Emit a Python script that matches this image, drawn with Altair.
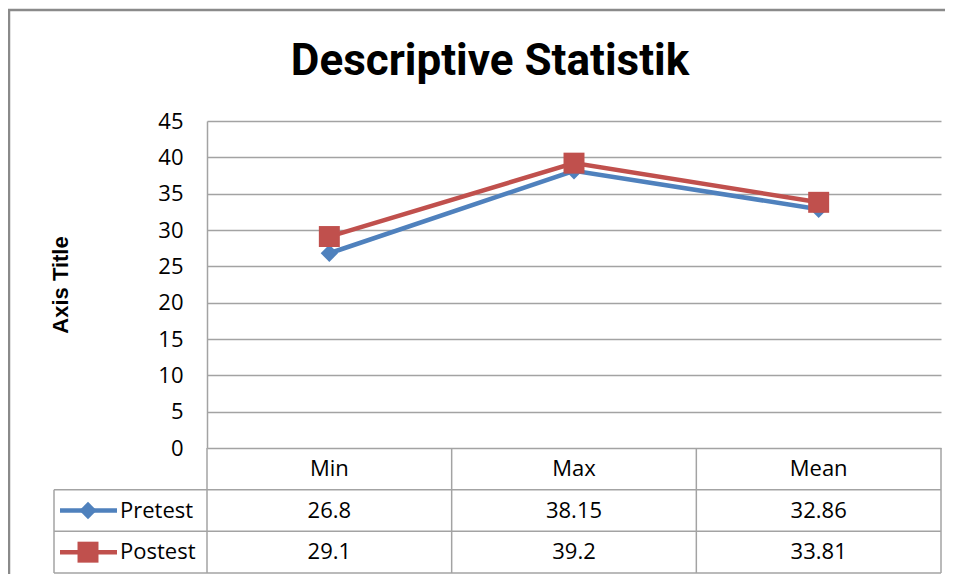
import altair as alt
import pandas as pd

# ---- data ----
categories = ["Min", "Max", "Mean"]
series_names = ["Pretest", "Postest"]
pretest = [26.8, 38.15, 32.86]
postest = [29.1, 39.2, 33.81]
y_ticks = [0, 5, 10, 15, 20, 25, 30, 35, 40, 45]
series_colors = ["#4F81BD", "#C0504D"]
series_shapes = ["diamond", "square"]
series_sizes = [300, 440]
title_text = "Descriptive Statistik"
y_title = "Axis Title"
header_row = "header"

rows = []
for s, vals in zip(series_names, [pretest, postest]):
    for c, v in zip(categories, vals):
        rows.append({"cat": c, "series": s, "value": v, "label": f"{v:g}", "row": s})
df = pd.DataFrame(rows)
df_head = pd.DataFrame({"cat": categories, "row": [header_row] * len(categories)})
df_series = pd.DataFrame({"series": series_names, "row": series_names})
df_one = pd.DataFrame({"k": [0]})

# ---- layout (pixels) ----
W = 734          # plot width
PH = 327         # plot height
RH = 125 / 3     # table row height
H = PH + 3 * RH
LEG_W = 153      # legend column width
GRID = "#a3a3a3"
FONT = "Open Sans"
FS = 22

x_scale = alt.Scale(type="band", domain=categories, paddingInner=0, paddingOuter=0)
y_scale = alt.Scale(domain=[0, 45], range=[PH, 0], nice=False, zero=True)
row_scale = alt.Scale(type="band", domain=[header_row] + series_names,
                      range=[PH, H], paddingInner=0, paddingOuter=0)
color = alt.Color("series:N", scale=alt.Scale(domain=series_names, range=series_colors), legend=None)
shape = alt.Shape("series:N", scale=alt.Scale(domain=series_names, range=series_shapes), legend=None)
size = alt.Size("series:N", scale=alt.Scale(domain=series_names, range=series_sizes), legend=None)

xc = alt.X("cat:N", scale=x_scale, axis=None, bandPosition=0.5)
xl = alt.X("cat:N", scale=x_scale, axis=None, bandPosition=0)

y_axis = alt.Axis(
    values=y_ticks, grid=True, gridColor=GRID, gridWidth=1.5,
    domain=True, domainColor=GRID, domainWidth=1.5, ticks=False,
    labelFont=FONT, labelFontSize=FS, labelColor="#000000", labelPadding=24,
    title=y_title, titleFont="Liberation Sans", titleFontSize=22, titleFontWeight="bold",
    titleColor="#000000", titleAngle=270, titleX=-147, titleY=PH / 2,
    titleAlign="center", titleBaseline="middle",
)

border = alt.Chart(df_one).mark_rect(fill="white", fillOpacity=0, stroke="#8a8a8a", strokeWidth=2.5).encode(
    x=alt.value(-198), x2=alt.value(W + 60), y=alt.value(-111), y2=alt.value(H + 60)
)

layers = [border]
for i, s in enumerate(series_names):
    sub = alt.Chart(df).transform_filter(alt.datum.series == s)
    line = sub.mark_line(strokeWidth=4.5).encode(
        x=xc,
        y=alt.Y("value:Q", scale=y_scale, axis=y_axis if i == 0 else None),
        color=color,
    )
    pts = sub.mark_point(filled=True, opacity=1).encode(
        x=xc, y=alt.Y("value:Q", scale=y_scale, axis=None),
        color=color, shape=shape, size=size,
    )
    layers += [line, pts]

# table grid
h_rules = alt.Chart(df_series).mark_rule(color=GRID, strokeWidth=1.5).encode(
    y=alt.Y("row:N", scale=row_scale, axis=None, bandPosition=0),
    x=alt.value(-LEG_W), x2=alt.value(W),
)
bottom_rule = alt.Chart(df_series).transform_filter(
    alt.datum.row == series_names[-1]
).mark_rule(color=GRID, strokeWidth=1.5).encode(
    y=alt.Y("row:N", scale=row_scale, axis=None, bandPosition=1),
    x=alt.value(-LEG_W), x2=alt.value(W),
)
v_rules = alt.Chart(df_head).mark_rule(color=GRID, strokeWidth=1.5).encode(
    x=xl, y=alt.value(PH), y2=alt.value(H)
)
right_rule = alt.Chart(df_one).mark_rule(color=GRID, strokeWidth=1.5).encode(
    x=alt.value(W), y=alt.value(PH), y2=alt.value(H)
)
left_rule = alt.Chart(df_one).mark_rule(color=GRID, strokeWidth=1.5).encode(
    x=alt.value(-LEG_W), y=alt.value(PH + RH), y2=alt.value(H)
)

yrow = alt.Y("row:N", scale=row_scale, axis=None, bandPosition=0.5)
head_text = alt.Chart(df_head).mark_text(font=FONT, fontSize=FS, color="#000000", baseline="middle").encode(
    x=xc, y=yrow, text="cat:N"
)
val_text = alt.Chart(df).mark_text(font=FONT, fontSize=FS, color="#000000", baseline="middle").encode(
    x=xc, y=yrow, text="label:N"
)
leg_text = alt.Chart(df_series).mark_text(font=FONT, fontSize=FS, color="#000000", baseline="middle", align="left").encode(
    x=alt.value(-87), y=yrow, text="series:N"
)
leg_line = alt.Chart(df_series).mark_rule(strokeWidth=4.5).encode(
    x=alt.value(-147), x2=alt.value(-90), y=yrow, color=color
)
leg_pt = alt.Chart(df_series).mark_point(filled=True, opacity=1).encode(
    x=alt.value(-119), y=yrow, color=color, shape=shape, size=size
)
title = alt.Chart(df_one).mark_text(
    text=title_text, font="Roboto", fontSize=44, fontWeight="bold", color="#000000",
    align="center", baseline="alphabetic"
).encode(x=alt.value(283), y=alt.value(-46))

layers += [h_rules, bottom_rule, v_rules, right_rule, left_rule,
           head_text, val_text, leg_line, leg_pt, leg_text, title]

chart = alt.layer(*layers).resolve_scale(y="independent").properties(
    width=W, height=H,
    autosize=alt.AutoSizeParams(type="none"),
    padding={"left": 199, "top": 113, "right": 4, "bottom": 1},
    background="white",
).configure_view(strokeWidth=0)

chart.save("out.html", embed_options={"renderer": "svg", "actions": False})
